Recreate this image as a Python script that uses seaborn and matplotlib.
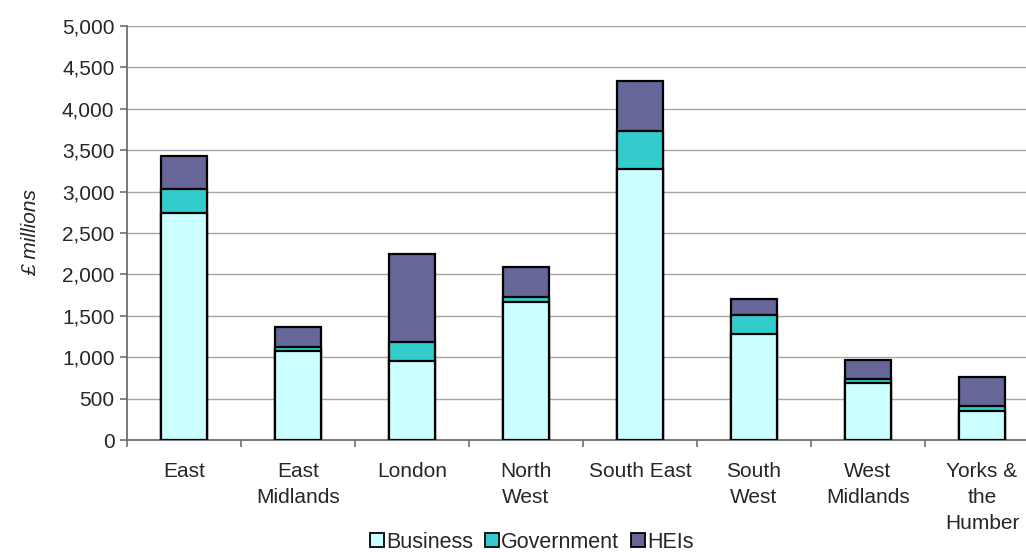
import matplotlib
matplotlib.use("Agg")
import matplotlib.pyplot as plt
import seaborn as sns
import pandas as pd
import numpy as np
from matplotlib.patches import Patch
from matplotlib.ticker import FuncFormatter, FixedLocator

regions = ["East", "East\nMidlands", "London", "North\nWest", "South East",
           "South\nWest", "West\nMidlands", "Yorks &\nthe\nHumber"]
business = [2740, 1070, 950, 1665, 3270, 1275, 690, 355]
government = [290, 55, 235, 65, 460, 230, 45, 55]
heis = [400, 240, 1065, 360, 610, 200, 230, 350]

series_names = ["Business", "Government", "HEIs"]
colors = ["#CCFFFF", "#33CCCC", "#666699"]

sns.set_style("white")
plt.rcParams["font.family"] = ["Liberation Sans", "DejaVu Sans"]
FS = 15

df = pd.DataFrame({"region": regions, "Business": business,
                   "Government": government, "HEIs": heis})
df["cum_bg"] = df["Business"] + df["Government"]
df["total"] = df["cum_bg"] + df["HEIs"]

fig = plt.figure(figsize=(10.26, 5.52), dpi=100)
ax = fig.add_axes([127 / 1026, 112 / 552, 912 / 1026, 414 / 552])

for col, c in zip(["total", "cum_bg", "Business"], colors[::-1]):
    sns.barplot(data=df, x="region", y=col, color=c, width=0.4,
                edgecolor="black", linewidth=1.6, ax=ax, zorder=3,
                saturation=1)

ax.set_ylim(0, 5000)
ax.set_xlim(-0.5, len(regions) - 0.5)
ax.set_yticks(np.arange(0, 5001, 500))
ax.yaxis.set_major_formatter(FuncFormatter(lambda v, p: f"{int(v):,}"))
ax.grid(axis="y", color="#A6A6A6", linewidth=1.0, zorder=0)
ax.set_axisbelow(True)

for s in ["top", "right"]:
    ax.spines[s].set_visible(False)
for s in ["left", "bottom"]:
    ax.spines[s].set_color("#6E6E6E")
    ax.spines[s].set_linewidth(1.3)

ax.tick_params(axis="y", direction="out", length=5, width=1.2, color="#6E6E6E",
               labelsize=FS, pad=4, left=True)
ax.tick_params(axis="x", which="major", length=0, labelsize=FS, pad=16)
ax.xaxis.set_minor_locator(FixedLocator(np.arange(-0.5, len(regions), 1.0)))
ax.tick_params(axis="x", which="minor", direction="out", length=5, width=1.2,
               color="#6E6E6E", bottom=True)
for lab in ax.get_xticklabels():
    lab.set_linespacing(1.45)
    lab.set_verticalalignment("top")

ax.set_xlabel("")
ax.set_ylabel("£ millions", fontsize=FS, style="italic")
ax.yaxis.set_label_coords(-0.095, 0.5)

handles = [Patch(facecolor=c, edgecolor="black", linewidth=1.3, label=n)
           for c, n in zip(colors, series_names)]
fig.legend(handles=handles, loc="center", bbox_to_anchor=(532 / 1026, 1 - 542 / 552),
           ncol=3, frameon=False, fontsize=15.5, handlelength=0.65,
           handleheight=0.65, handletextpad=0.1, columnspacing=0.55,
           borderpad=0)

fig.savefig("out.png", dpi=100)
